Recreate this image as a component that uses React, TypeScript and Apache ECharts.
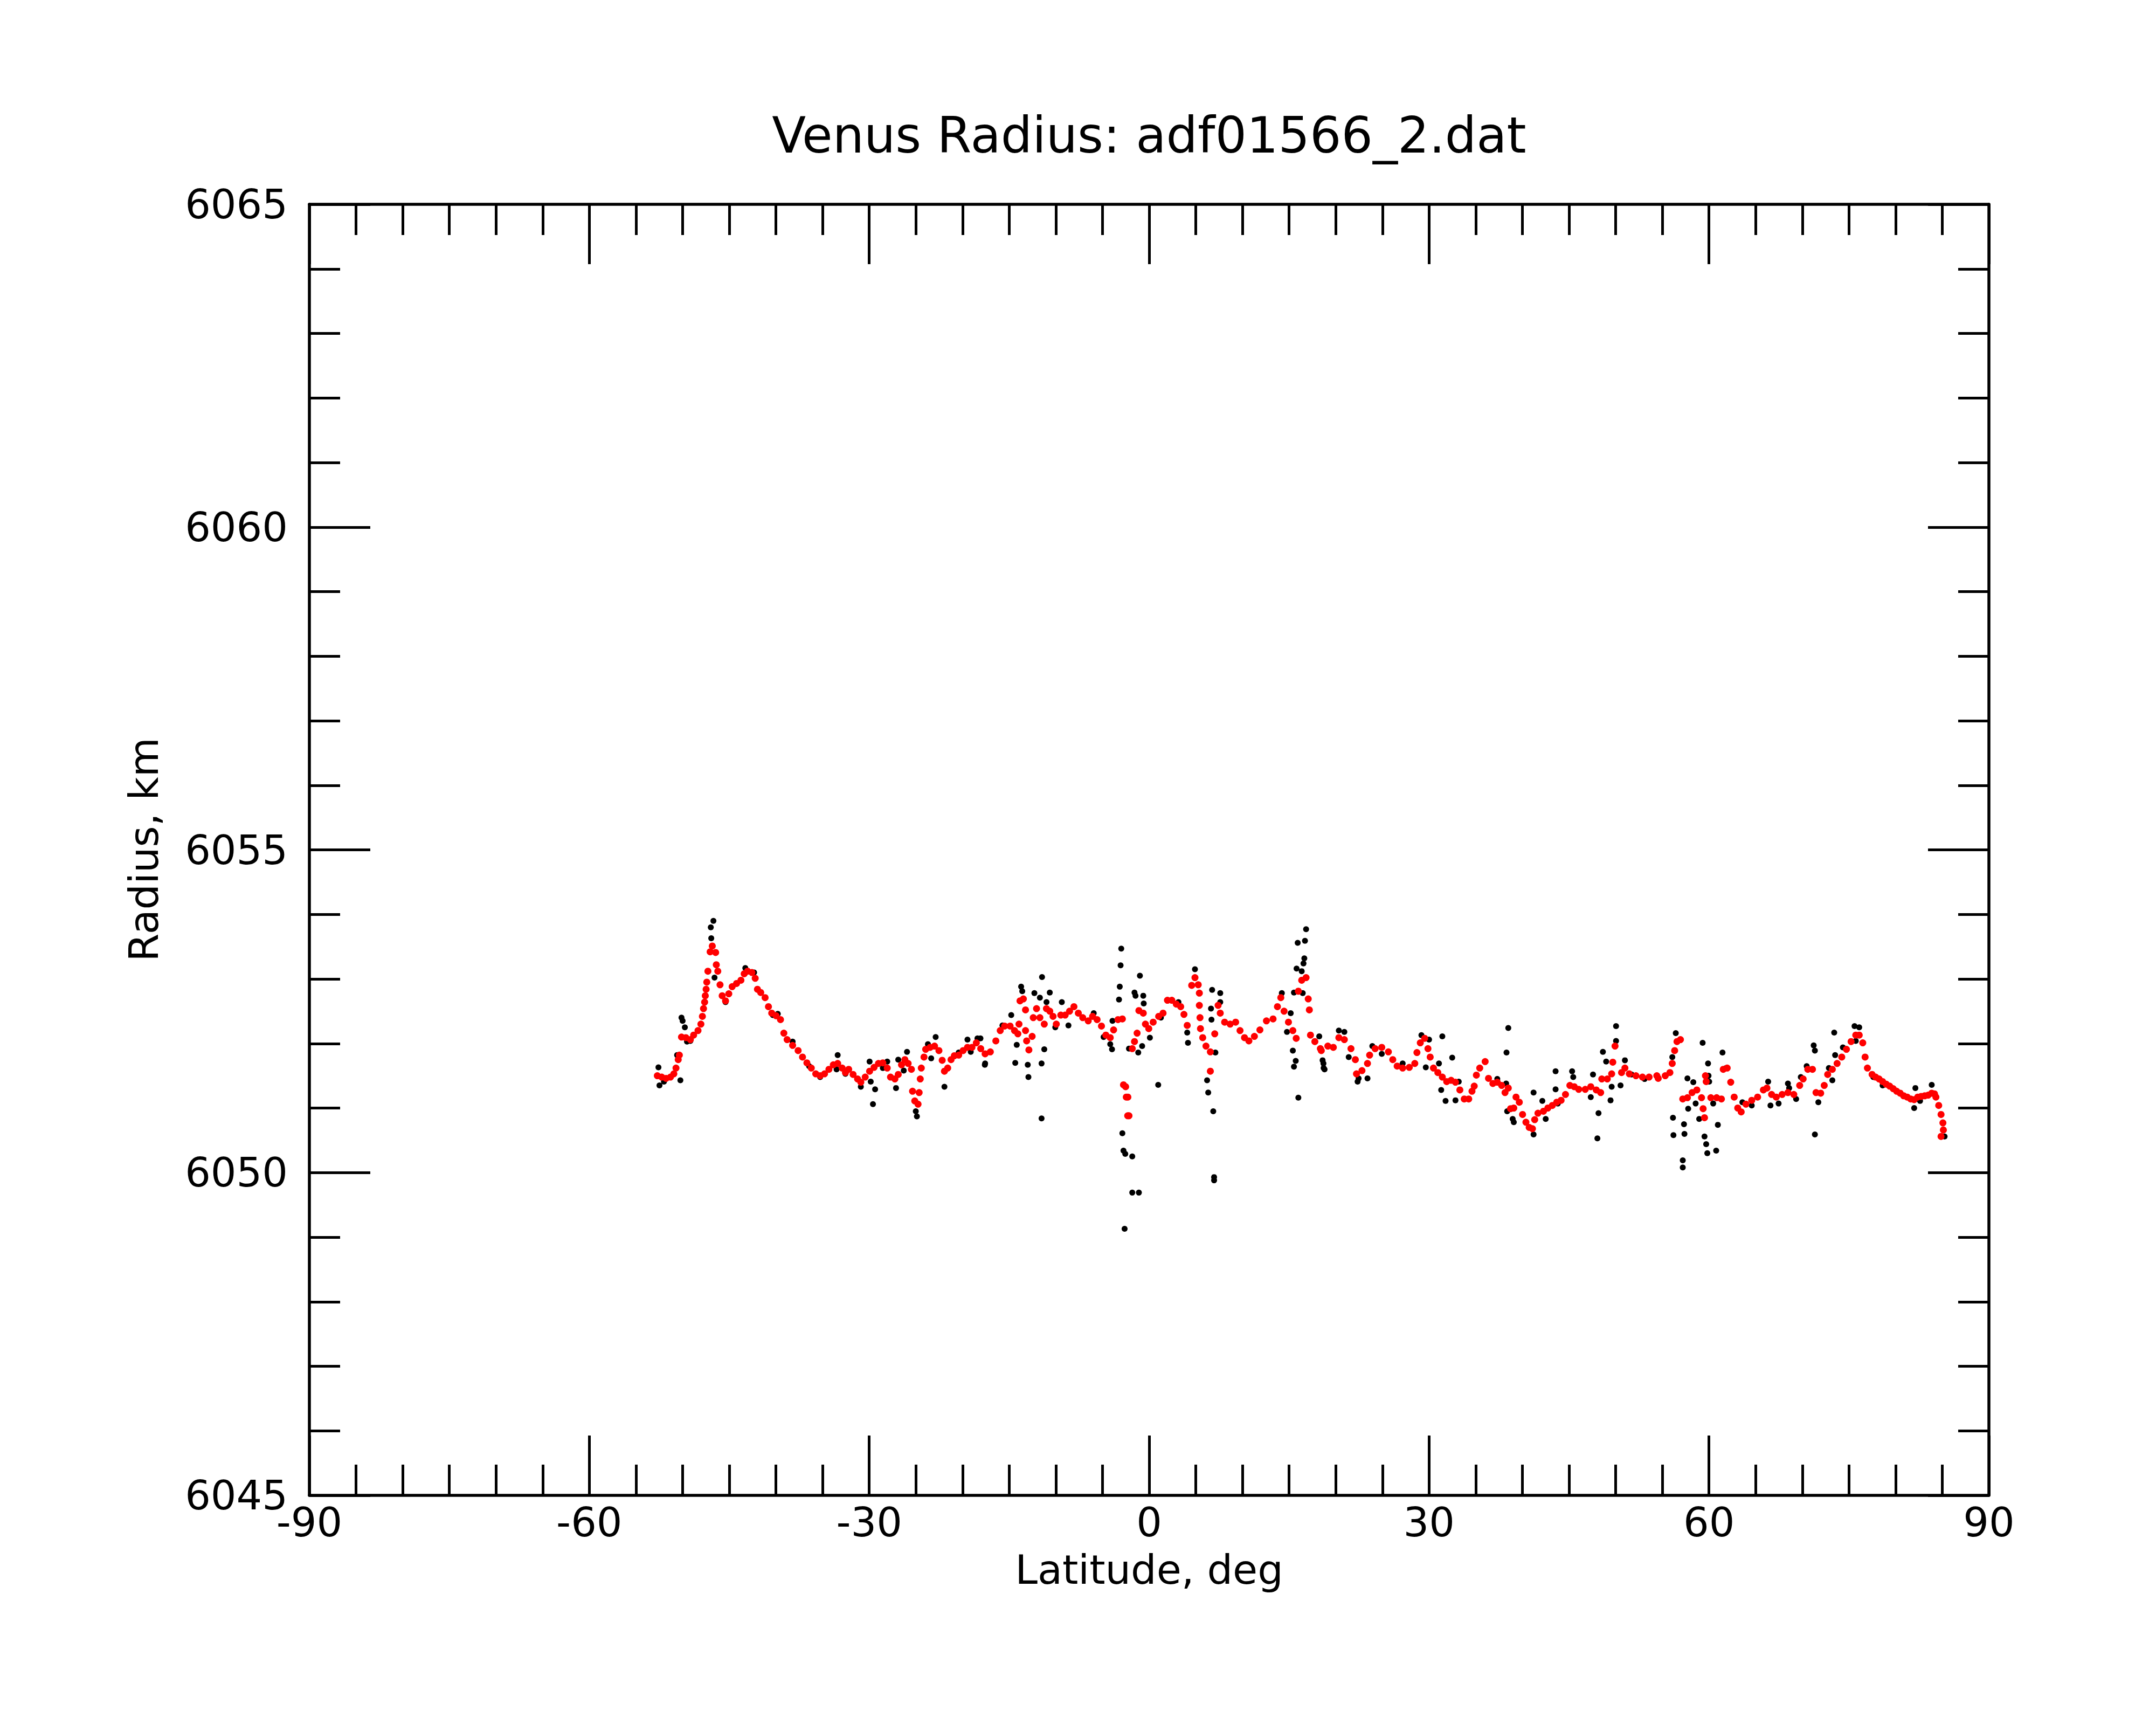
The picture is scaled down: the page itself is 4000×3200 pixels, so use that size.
import React, { useEffect, useRef } from "react";
import * as echarts from "echarts";

const TITLE = "Venus Radius: adf01566_2.dat";
const X_NAME = "Latitude, deg";
const Y_NAME = "Radius, km";
const X_MIN = -90;
const X_MAX = 90;
const X_STEP = 30;
const Y_MIN = 6045;
const Y_MAX = 6065;
const Y_STEP = 5;

// Smoothed radius profile (red dots): [latitude, radius]
const smoothedSouth: [number, number][] = [
  [-52.71, 6051.5], [-52.24, 6051.48], [-51.77, 6051.46], [-51.3, 6051.48], [-50.94, 6051.53], [-50.71, 6051.62],
  [-50.47, 6051.75], [-50.35, 6051.82], [-50.12, 6052.1], [-49.65, 6052.09], [-49.17, 6052.06], [-48.82, 6052.13],
  [-48.35, 6052.2], [-48.04, 6052.3], [-47.88, 6052.42], [-47.76, 6052.54], [-47.64, 6052.64], [-47.57, 6052.74],
  [-47.48, 6052.84], [-47.41, 6052.95], [-47.29, 6053.12], [-47.05, 6053.42], [-46.82, 6053.51], [-46.46, 6053.41],
  [-46.39, 6053.22], [-46.23, 6053.12], [-45.99, 6052.91], [-45.76, 6052.74], [-45.4, 6052.66], [-45.05, 6052.77],
  [-44.69, 6052.88], [-44.22, 6052.93], [-43.75, 6052.98], [-43.4, 6053.08], [-43.04, 6053.12], [-42.57, 6053.1],
  [-42.22, 6053.01], [-41.98, 6052.84], [-41.63, 6052.79], [-41.16, 6052.71], [-40.8, 6052.57], [-40.45, 6052.47],
  [-39.98, 6052.43], [-39.51, 6052.37], [-39.15, 6052.16], [-38.8, 6052.06], [-38.21, 6051.97], [-37.62, 6051.89],
  [-37.15, 6051.79], [-36.68, 6051.7], [-36.21, 6051.62], [-35.73, 6051.53], [-35.26, 6051.5], [-34.79, 6051.53],
  [-34.32, 6051.6], [-33.85, 6051.67], [-33.38, 6051.69], [-32.9, 6051.62], [-32.55, 6051.55], [-32.2, 6051.6],
  [-31.73, 6051.52], [-31.25, 6051.45], [-30.9, 6051.4], [-30.43, 6051.48], [-29.96, 6051.57], [-29.48, 6051.63],
  [-29.01, 6051.69], [-28.54, 6051.7], [-28.07, 6051.62], [-27.72, 6051.48], [-27.25, 6051.45], [-26.89, 6051.52],
  [-26.54, 6051.67], [-26.18, 6051.75], [-25.83, 6051.69], [-25.48, 6051.6], [-25.36, 6051.26], [-25.12, 6051.11],
  [-24.77, 6051.06], [-24.65, 6051.24], [-24.53, 6051.45], [-24.42, 6051.62], [-24.13, 6051.79], [-23.95, 6051.91],
  [-23.47, 6051.94], [-23.0, 6051.96], [-22.53, 6051.89], [-22.18, 6051.74], [-21.94, 6051.57], [-21.59, 6051.62],
  [-21.23, 6051.75], [-20.88, 6051.81], [-20.41, 6051.82], [-19.94, 6051.89], [-19.47, 6051.94], [-18.99, 6051.94],
  [-18.52, 6052.01], [-18.05, 6051.92], [-17.58, 6051.84],
];

const smoothedEquator: [number, number][] = [
  [-17.02, 6051.87], [-16.43, 6052.04], [-15.96, 6052.2], [-15.49, 6052.27], [-14.9, 6052.27], [-14.43, 6052.2],
  [-14.07, 6052.15], [-13.84, 6052.66], [-13.48, 6052.69], [-13.25, 6052.52], [-13.95, 6052.3], [-13.25, 6052.2],
  [-13.13, 6052.04], [-12.89, 6051.9], [-12.54, 6052.11], [-12.42, 6052.4], [-12.07, 6052.54], [-11.71, 6052.4],
  [-11.24, 6052.3], [-11.01, 6052.54], [-10.65, 6052.5], [-10.3, 6052.42], [-9.95, 6052.3], [-9.47, 6052.44],
  [-9.0, 6052.44], [-8.53, 6052.5], [-8.06, 6052.57], [-7.59, 6052.47], [-7.12, 6052.4], [-6.53, 6052.35],
  [-6.06, 6052.42], [-5.58, 6052.37], [-5.11, 6052.27], [-4.64, 6052.13], [-4.17, 6052.09], [-3.81, 6052.21],
  [-3.34, 6052.37], [-2.87, 6052.38], [-2.75, 6051.36], [-2.52, 6051.33], [-2.28, 6051.17], [-2.45, 6051.17],
  [-2.16, 6050.88], [-2.3, 6050.88], [-1.81, 6051.92], [-1.57, 6052.03], [-1.29, 6052.16], [-1.1, 6052.51],
  [-0.63, 6052.47], [-0.4, 6052.3], [-0.04, 6052.23], [0.43, 6052.33], [1.02, 6052.42], [1.49, 6052.47],
  [1.96, 6052.67], [2.43, 6052.67], [2.91, 6052.61], [3.38, 6052.57], [3.73, 6052.45], [4.08, 6052.28],
  [4.56, 6052.9], [4.91, 6053.02], [5.26, 6052.91], [5.38, 6052.78], [5.38, 6052.59], [5.45, 6052.4],
  [5.5, 6052.23], [5.74, 6052.09], [6.09, 6051.96], [6.56, 6051.87], [6.56, 6051.57], [7.03, 6052.15],
  [7.39, 6052.59], [7.62, 6052.47], [8.09, 6052.33], [8.68, 6052.3], [9.27, 6052.33], [9.74, 6052.2],
  [10.22, 6052.09], [10.69, 6052.04], [11.28, 6052.11], [11.87, 6052.21], [12.57, 6052.35], [13.28, 6052.38],
  [13.75, 6052.57], [14.11, 6052.71], [14.46, 6052.5], [14.93, 6052.33], [15.4, 6052.2], [15.76, 6052.08],
  [15.99, 6052.81], [16.35, 6052.98], [16.82, 6053.02], [17.05, 6052.69], [17.17, 6052.52], [17.29, 6052.13],
  [17.76, 6052.03], [18.35, 6051.92],
];

const smoothedMid: [number, number][] = [
  [18.45, 6051.89], [19.15, 6051.96], [19.74, 6051.94], [20.33, 6052.09], [20.92, 6052.06], [21.63, 6051.92],
  [22.1, 6051.75], [22.22, 6051.53], [22.81, 6051.58], [23.4, 6051.69], [23.63, 6051.82], [24.22, 6051.92],
  [24.93, 6051.94], [25.64, 6051.87], [26.11, 6051.75], [26.58, 6051.65], [27.17, 6051.62], [27.88, 6051.63],
  [28.47, 6051.69], [28.7, 6051.86], [29.06, 6052.01], [29.53, 6052.08], [29.88, 6051.92], [30.12, 6051.79],
  [30.47, 6051.62], [30.94, 6051.55], [31.42, 6051.48], [31.89, 6051.41], [32.36, 6051.43], [32.83, 6051.4],
  [33.3, 6051.28], [33.77, 6051.14], [34.25, 6051.14], [34.6, 6051.26], [34.84, 6051.34], [35.07, 6051.51],
  [35.43, 6051.62], [36.01, 6051.72], [36.37, 6051.46], [36.84, 6051.38], [37.31, 6051.4], [37.78, 6051.35],
  [38.14, 6051.24], [38.49, 6051.31], [38.73, 6050.99], [39.08, 6051.0], [39.32, 6051.17], [39.67, 6051.09],
  [40.02, 6050.9], [40.38, 6050.78], [40.73, 6050.7], [41.08, 6050.68], [41.32, 6050.82], [41.67, 6050.92],
  [42.26, 6050.95], [42.73, 6051.0], [43.21, 6051.04], [43.68, 6051.09], [44.15, 6051.12], [44.62, 6051.21],
  [45.09, 6051.35], [45.56, 6051.33], [46.04, 6051.29], [46.74, 6051.29], [47.33, 6051.33], [47.92, 6051.28],
  [48.39, 6051.24], [48.51, 6051.45], [49.1, 6051.45], [49.57, 6051.53], [49.93, 6051.96], [49.69, 6051.71],
  [50.63, 6051.55], [50.99, 6051.62], [51.46, 6051.53], [52.17, 6051.5], [52.87, 6051.48], [53.58, 6051.48],
  [54.41, 6051.5],
];

const smoothedNorth: [number, number][] = [
  [54.56, 6051.46], [55.31, 6051.5], [55.81, 6051.55], [56.06, 6051.69], [56.32, 6051.89], [56.57, 6052.03],
  [56.94, 6052.06], [57.19, 6051.14], [57.69, 6051.16], [58.19, 6051.24], [58.7, 6051.28], [59.2, 6051.16],
  [59.37, 6050.99], [59.52, 6050.85], [59.62, 6051.5], [59.7, 6051.41], [60.2, 6051.16], [60.82, 6051.16],
  [61.33, 6051.14], [61.53, 6051.6], [61.95, 6051.62], [62.33, 6051.4], [62.7, 6051.17], [63.08, 6051.0],
  [63.45, 6050.94], [63.96, 6051.06], [64.58, 6051.12], [65.21, 6051.17], [65.83, 6051.28], [66.21, 6051.31],
  [66.71, 6051.21], [67.21, 6051.17], [67.84, 6051.21], [68.46, 6051.24], [69.09, 6051.21], [69.72, 6051.35],
  [70.09, 6051.45], [70.59, 6051.6], [71.09, 6051.6], [71.47, 6051.24], [71.97, 6051.23], [72.35, 6051.35],
  [72.72, 6051.52], [73.22, 6051.6], [73.73, 6051.69], [74.23, 6051.79], [74.73, 6051.91], [75.23, 6052.03],
  [75.73, 6052.13], [76.1, 6052.13], [76.48, 6052.01], [76.73, 6051.79], [76.98, 6051.62], [77.48, 6051.52],
  [77.86, 6051.48], [78.23, 6051.45], [78.61, 6051.41], [78.99, 6051.37], [79.36, 6051.34], [79.74, 6051.3],
  [80.11, 6051.26], [80.49, 6051.23], [80.86, 6051.19], [81.24, 6051.17], [81.62, 6051.14], [81.99, 6051.13],
  [82.37, 6051.17], [82.74, 6051.18], [83.12, 6051.19], [83.49, 6051.2], [83.87, 6051.23], [84.17, 6051.22],
  [84.32, 6051.17], [84.62, 6051.04], [84.87, 6050.9], [85.07, 6050.77], [85.12, 6050.66], [84.87, 6050.56],
];

// Raw radius measurements (black dots): [latitude, radius]
const rawSouth: [number, number][] = [
  [-52.59, 6051.63], [-52.48, 6051.35], [-52.0, 6051.41], [-50.24, 6051.43], [-50.59, 6051.82], [-50.12, 6052.4],
  [-50.0, 6052.35], [-49.76, 6052.25], [-49.53, 6052.03], [-49.17, 6052.04], [-46.93, 6053.63], [-46.98, 6053.8],
  [-46.7, 6053.9], [-46.58, 6053.02], [-45.4, 6052.64], [-43.28, 6053.17], [-42.34, 6053.1], [-40.33, 6052.44],
  [-39.8, 6052.46], [-38.21, 6052.03], [-36.44, 6051.65], [-35.26, 6051.48], [-33.38, 6051.82], [-33.5, 6051.6],
  [-32.55, 6051.53], [-30.9, 6051.33], [-29.96, 6051.72], [-29.84, 6051.41], [-29.37, 6051.29], [-29.6, 6051.06],
  [-28.54, 6051.62], [-28.07, 6051.72], [-27.13, 6051.31], [-26.89, 6051.75], [-25.95, 6051.87], [-26.3, 6051.58],
  [-24.89, 6050.87], [-25.01, 6050.95], [-23.71, 6051.99], [-22.88, 6052.1], [-23.36, 6051.77], [-21.94, 6051.33],
  [-20.41, 6051.86], [-19.47, 6052.06], [-19.12, 6051.87], [-18.4, 6052.08], [-17.58, 6051.69],
];

const rawEquator: [number, number][] = [
  [-18.08, 6052.08], [-17.61, 6051.67], [-15.72, 6052.28], [-14.78, 6052.44], [-14.35, 6051.7], [-14.19, 6051.98],
  [-13.72, 6052.88], [-13.6, 6052.81], [-13.01, 6051.67], [-12.94, 6051.48], [-12.3, 6052.78], [-11.71, 6052.71],
  [-11.48, 6053.03], [-11.53, 6051.69], [-11.24, 6051.91], [-11.53, 6050.84], [-10.65, 6052.79], [-11.0, 6052.64],
  [-9.36, 6052.64], [-10.06, 6052.25], [-8.65, 6052.28], [-5.94, 6052.47], [-4.88, 6052.1], [-4.17, 6051.99],
  [-3.98, 6051.91], [-3.93, 6052.35], [-2.99, 6053.47], [-3.06, 6053.21], [-3.15, 6052.88], [-3.23, 6052.68],
  [-2.87, 6050.61], [-2.75, 6050.34], [-2.56, 6050.29], [-1.81, 6050.25], [-1.81, 6049.69], [-1.1, 6049.69],
  [-2.63, 6049.13], [-2.16, 6051.92], [-1.17, 6051.86], [-0.99, 6053.05], [-1.57, 6052.79], [-1.46, 6052.74],
  [-0.63, 6052.74], [-0.58, 6052.62], [-0.75, 6051.96], [0.08, 6052.09], [0.97, 6051.36], [1.26, 6052.4],
  [3.14, 6052.64], [4.91, 6053.15], [4.08, 6052.17], [4.16, 6052.01], [6.75, 6052.83], [6.63, 6052.54],
  [6.68, 6052.37], [7.62, 6052.78], [7.62, 6052.64], [6.21, 6051.43], [6.33, 6051.24], [6.87, 6050.95],
  [6.96, 6049.93], [6.96, 6049.88], [7.1, 6051.86], [14.22, 6052.78], [15.17, 6052.47], [14.77, 6052.18],
  [15.4, 6051.89], [15.71, 6051.73], [15.52, 6051.64], [15.99, 6051.16], [16.82, 6053.77], [15.92, 6053.56],
  [16.7, 6053.59], [16.63, 6053.32], [16.54, 6053.24], [15.8, 6053.16], [16.35, 6053.12], [15.52, 6052.79],
  [16.46, 6052.78], [18.23, 6052.11], [18.59, 6051.74], [18.7, 6051.62],
];

const rawMid: [number, number][] = [
  [18.68, 6051.69], [18.8, 6051.6], [20.33, 6052.2], [20.92, 6052.18], [21.39, 6051.79], [22.34, 6051.41],
  [22.45, 6051.46], [23.4, 6051.46], [23.92, 6051.96], [24.93, 6051.84], [27.17, 6051.69], [29.18, 6052.13],
  [29.65, 6051.63], [30.0, 6052.06], [31.06, 6051.69], [31.42, 6052.11], [31.3, 6051.28], [31.77, 6051.11],
  [32.48, 6051.78], [32.83, 6051.12], [33.18, 6051.41], [37.31, 6051.45], [38.26, 6051.38], [38.49, 6052.24],
  [38.3, 6051.86], [38.37, 6050.95], [38.96, 6050.83], [39.08, 6050.78], [41.2, 6050.59], [41.2, 6051.24],
  [42.14, 6051.11], [42.5, 6050.83], [43.56, 6051.57], [43.56, 6051.29], [43.8, 6051.07], [45.33, 6051.57],
  [45.45, 6051.48], [47.57, 6051.52], [47.33, 6051.17], [48.16, 6050.92], [48.04, 6050.53], [48.63, 6051.87],
  [48.98, 6051.72], [50.04, 6052.27], [50.04, 6052.04], [49.57, 6051.33], [49.45, 6051.12], [50.52, 6051.35],
  [50.99, 6051.74], [51.7, 6051.52], [53.1, 6051.45],
];

const rawNorth: [number, number][] = [
  [56.44, 6052.16], [56.07, 6051.79], [56.14, 6050.85], [56.19, 6050.58], [57.19, 6050.19], [57.19, 6050.08],
  [57.32, 6050.75], [57.37, 6050.6], [57.69, 6051.46], [57.77, 6050.99], [58.32, 6051.4], [58.57, 6051.07],
  [59.32, 6052.01], [59.9, 6051.69], [59.95, 6051.5], [60.02, 6051.41], [58.95, 6050.83], [59.52, 6050.56],
  [59.7, 6050.44], [59.82, 6050.3], [60.77, 6050.34], [60.95, 6050.74], [60.45, 6051.07], [61.45, 6051.86],
  [61.83, 6051.62], [63.58, 6051.09], [64.58, 6051.04], [66.34, 6051.41], [66.59, 6051.04], [67.46, 6051.07],
  [68.46, 6051.38], [68.59, 6051.31], [69.34, 6051.14], [69.84, 6051.48], [70.47, 6051.65], [71.22, 6051.97],
  [71.35, 6051.89], [71.72, 6051.09], [71.35, 6050.59], [72.85, 6051.62], [73.22, 6051.43], [73.42, 6052.17],
  [73.52, 6051.82], [74.35, 6051.94], [75.6, 6052.27], [76.1, 6052.25], [75.73, 6052.04], [77.61, 6051.48],
  [78.61, 6051.35], [82.12, 6051.31], [81.99, 6051.0], [82.62, 6051.11], [83.87, 6051.36], [85.25, 6050.56],
];

const FONT = "DejaVu Sans";

export default function App() {
  const ref = useRef<HTMLDivElement>(null);

  useEffect(() => {
    if (!ref.current) return;
    const chart = echarts.init(ref.current, null, { renderer: "svg", width: 4000, height: 3200 });

    const tickStyle = { color: "#000", width: 5 };
    const axisLine = { show: true, onZero: false, lineStyle: { color: "#000", width: 5.5 } };
    const labelStyle = { fontSize: 75, fontFamily: FONT, color: "#000", formatter: (v: number) => String(v) };

    const xBase = {
      type: "value",
      min: X_MIN,
      max: X_MAX,
      interval: X_STEP,
      splitLine: { show: false },
      axisLine,
      axisTick: { show: true, inside: true, length: 111, lineStyle: tickStyle },
      minorTick: { show: true, splitNumber: 6, length: 57, lineStyle: tickStyle },
      minorSplitLine: { show: false },
    };
    const yBase = {
      type: "value",
      min: Y_MIN,
      max: Y_MAX,
      interval: Y_STEP,
      splitLine: { show: false },
      axisLine,
      axisTick: { show: true, inside: true, length: 113, lineStyle: tickStyle },
      minorTick: { show: true, splitNumber: 5, length: 57, lineStyle: tickStyle },
      minorSplitLine: { show: false },
    };

    const option: any = {
      animation: false,
      backgroundColor: "#fff",
      grid: { left: 574, right: 310, top: 379, bottom: 426, containLabel: false },
      xAxis: [
        {
          ...xBase,
          position: "bottom",
          axisLabel: { show: true, margin: 12, showMinLabel: true, showMaxLabel: true, ...labelStyle },
        },
        { ...xBase, position: "top", axisLabel: { show: false } },
      ],
      yAxis: [
        {
          ...yBase,
          position: "left",
          axisLabel: { show: true, margin: 40, showMinLabel: true, showMaxLabel: true, ...labelStyle },
        },
        { ...yBase, position: "right", axisLabel: { show: false } },
      ],
      graphic: [
        {
          type: "text",
          x: 2132,
          y: 251,
          style: { text: TITLE, fill: "#000", fontSize: 92, fontFamily: FONT, align: "center", verticalAlign: "middle" },
        },
        {
          type: "text",
          x: 2132,
          y: 2912,
          style: { text: X_NAME, fill: "#000", fontSize: 75, fontFamily: FONT, align: "center", verticalAlign: "middle" },
        },
        {
          type: "text",
          x: 267,
          y: 1576,
          rotation: Math.PI / 2,
          style: { text: Y_NAME, fill: "#000", fontSize: 75, fontFamily: FONT, align: "center", verticalAlign: "middle" },
        },
      ],
      series: [
        {
          type: "scatter",
          xAxisIndex: 0,
          yAxisIndex: 0,
          symbol: "circle",
          symbolSize: 11,
          itemStyle: { color: "#000", opacity: 1 },
          silent: true,
          data: [...rawSouth, ...rawEquator, ...rawMid, ...rawNorth],
        },
        {
          type: "scatter",
          xAxisIndex: 0,
          yAxisIndex: 0,
          symbol: "circle",
          symbolSize: 13,
          itemStyle: { color: "#ff0000", opacity: 1 },
          silent: true,
          data: [...smoothedSouth, ...smoothedEquator, ...smoothedMid, ...smoothedNorth],
        },
      ],
    };

    chart.setOption(option);
    return () => chart.dispose();
  }, []);

  return (
    <div
      ref={ref}
      style={{ position: "absolute", left: 0, top: 0, width: 4000, height: 3200, background: "#fff" }}
    />
  );
}
